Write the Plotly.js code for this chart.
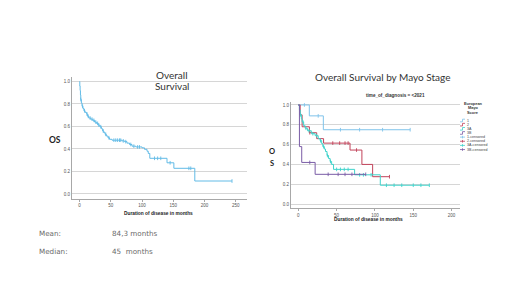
<!DOCTYPE html>
<html>
<head>
<meta charset="utf-8">
<script src="https://cdn.plot.ly/plotly-3.0.1.min.js"></script>
<style>html,body{margin:0;padding:0;background:#fff;}#chart{width:520px;height:292px;}</style>
</head>
<body>
<div id="chart"></div>
<script>
// ---------- DATA ----------
// Left: overall survival (Kaplan-Meier steps)
const osTimes = [0,0.5,1,1.5,2,3,4,5.5,7,9,11.5,13,15,18,21,24,27,30,32.5,35,37,39,41,43,45.5,48,52,68,72,76,80,84,90,100,104,108,110,112.5,140,151,184.5];
const osSurv  = [1,0.96,0.92,0.88,0.84,0.81,0.78,0.76,0.74,0.725,0.71,0.69,0.675,0.665,0.655,0.64,0.628,0.612,0.598,0.58,0.56,0.545,0.53,0.515,0.5,0.486,0.478,0.472,0.465,0.452,0.44,0.425,0.418,0.41,0.397,0.38,0.36,0.317,0.277,0.228,0.115];
const osEnd = 244;
const osCensor = [2,5,8,12,14,17,20,23,26,29,31,34,38,42,47,55,58,61,64,66,70,74,82,87,93,96,120,125,130,145,175,178,244];

// Right: overall survival by European Mayo stage
const stageNames = ["1","2","3A","3B"];
const stageTimes = [
  [0,14.4,32.7],
  [0,2.5,5,14.5,24,33,67.5,83,97],
  [0,1.5,2.5,4,5,7,9,12,17,22,26,28.5,30.5,32,34,35.5,37.5,39.5,41.5,43.5,46,73.5,107],
  [0,1.5,4.5,22]
];
const stageSurv = [
  [1,0.89,0.75],
  [1,0.9,0.78,0.72,0.66,0.615,0.545,0.40,0.276],
  [1,0.95,0.90,0.86,0.83,0.79,0.765,0.74,0.71,0.69,0.66,0.64,0.61,0.58,0.555,0.53,0.49,0.46,0.43,0.40,0.35,0.295,0.19],
  [1,0.58,0.42,0.30]
];
const stageEnd = [146,119,171,88];
const stageCensor = [
  [8,26,55,80,110,146],
  [15,45,54,61,65,76,119],
  [3,6,10,14,19,24,29,33,38,42,50,55,60,65,80,85,95,115,125,135,150,160,171],
  [15,39,52,61,70,88]
];
const legendLabels = ["1","2","3A","3B","1-censored","2-censored","3A-censored","3B-censored"];
const yTicks = [0,0.2,0.4,0.6,0.8,1.0];
const xTicksL = [0,50,100,150,200,250];
const xTicksR = [0,50,100,150,200];

// ---------- STYLE ----------
const W = 520, H = 292;
const osColor = "#62bbe6";
const stageColors = ["#7fc3ea","#c2435a","#3fd3cb","#7a5ca6"];
const PX = x => x / W, PY = y => 1 - y / H;

function survAt(times, surv, t){
  let s = surv[0];
  for (let i = 0; i < times.length; i++) if (times[i] <= t) s = surv[i];
  return s;
}
function stepTrace(times, surv, end, color, xa, ya){
  return {x: times.concat([end]), y: surv.concat([surv[surv.length-1]]),
    type:"scatter", mode:"lines", line:{shape:"hv", color:color, width:1},
    xaxis:xa, yaxis:ya, hoverinfo:"skip", showlegend:false};
}
function censorTrace(times, surv, cens, color, xa, ya){
  return {x: cens, y: cens.map(t => survAt(times, surv, t)),
    type:"scatter", mode:"markers",
    marker:{symbol:"line-ns-open", size:2.6, color:color, line:{color:color, width:0.9}},
    xaxis:xa, yaxis:ya, hoverinfo:"skip", showlegend:false};
}

const traces = [];
traces.push(stepTrace(osTimes, osSurv, osEnd, osColor, "x", "y"));
traces.push(censorTrace(osTimes, osSurv, osCensor, osColor, "x", "y"));
for (let g = 0; g < stageNames.length; g++){
  traces.push(stepTrace(stageTimes[g], stageSurv[g], stageEnd[g], stageColors[g], "x2", "y2"));
  traces.push(censorTrace(stageTimes[g], stageSurv[g], stageCensor[g], stageColors[g], "x2", "y2"));
}

const tickFont = {family:"Liberation Sans, Arial, sans-serif", size:4.5, color:"#555"};
function xAxis(domain, range, ticks, anchor){
  return {domain:domain, range:range, anchor:anchor, tickvals:ticks, ticktext:ticks.map(String),
    showline:true, linecolor:"#a8a8a8", linewidth:1, ticks:"outside", ticklen:2, tickcolor:"#a8a8a8",
    tickfont:tickFont, showgrid:false, zeroline:false, fixedrange:true};
}
function yAxis(domain, range, anchor){
  return {domain:domain, range:range, anchor:anchor, tickvals:yTicks, ticktext:yTicks.map(v=>v.toFixed(1)),
    showline:true, linecolor:"#a8a8a8", linewidth:1, ticks:"", tickfont:tickFont,
    showgrid:true, gridcolor:"#d6d6d6", gridwidth:1, zeroline:false, fixedrange:true};
}

const annotations = [];
function ann(x, y, text, size, opts){
  opts = opts || {};
  annotations.push(Object.assign({xref:"paper", yref:"paper", x:PX(x), y:PY(y), text:text, showarrow:false,
    xanchor:"center", yanchor:"middle", borderpad:0,
    font:{family:opts.family || "Lato, sans-serif", size:size, color:opts.color || "#333"}}, opts.extra || {}));
}
const arial = "Liberation Sans, Arial, sans-serif";
// Titles
ann(172, 75, "Overall", 10);
ann(172, 86, "Survival", 10);
ann(382, 77, "Overall Survival by Mayo Stage", 10);
ann(395, 95, "<b>time_of_diagnosis = &lt;2021</b>", 4.6, {family:arial, color:"#333"});
ann(55, 140, "<b>OS</b>", 8.5, {color:"#222"});
ann(272, 151, "<b>O</b>", 7.5, {color:"#222"});
ann(272, 163, "<b>S</b>", 7.5, {color:"#222"});
ann(158, 213, "<b>Duration of disease in months</b>", 4.8, {family:arial, color:"#222"});
ann(368, 219.5, "<b>Duration of disease in months</b>", 4.8, {family:arial, color:"#222"});
// Stats
const statFont = "DejaVu Sans, sans-serif";
const statCol = "#6b6b6b";
ann(38, 233, "Mean:", 7.2, {family:statFont, color:statCol, extra:{xanchor:"left"}});
ann(111, 233, "84,3 months", 7.2, {family:statFont, color:statCol, extra:{xanchor:"left"}});
ann(38, 251, "Median:", 7.2, {family:statFont, color:statCol, extra:{xanchor:"left"}});
ann(111, 251, "45\u00a0 months", 7.2, {family:statFont, color:statCol, extra:{xanchor:"left"}});
// Legend title
ann(473, 103.8, "<b>European</b>", 3.9, {family:arial});
ann(473, 108, "<b>Mayo</b>", 3.9, {family:arial});
ann(473, 112.2, "<b>Score</b>", 3.9, {family:arial});

const shapes = [];
const legX0 = 460, legTextX = 466, legY0 = 120.5, legDy = 4.15;
legendLabels.forEach((lab, i) => {
  const y = legY0 + i * legDy;
  const col = stageColors[i % 4];
  ann(legTextX, y, lab, 3.6, {family:arial, color:"#444", extra:{xanchor:"left"}});
  if (i < 4){
    shapes.push({type:"path", xref:"paper", yref:"paper",
      path:`M ${PX(legX0)},${PY(y+1.3)} L ${PX(legX0+2.5)},${PY(y+1.3)} L ${PX(legX0+2.5)},${PY(y-1.3)} L ${PX(legX0+5)},${PY(y-1.3)}`,
      line:{color:col, width:0.8}});
  } else {
    shapes.push({type:"line", xref:"paper", yref:"paper", x0:PX(legX0), x1:PX(legX0+5), y0:PY(y), y1:PY(y), line:{color:col, width:0.8}});
    shapes.push({type:"line", xref:"paper", yref:"paper", x0:PX(legX0+2.5), x1:PX(legX0+2.5), y0:PY(y-1.3), y1:PY(y+1.3), line:{color:col, width:0.8}});
  }
});

const layout = {
  width:W, height:H, margin:{l:0,r:0,t:0,b:0}, paper_bgcolor:"#fff", plot_bgcolor:"#fff",
  showlegend:false,
  xaxis: xAxis([72/W, 247/W], [-12, 268], xTicksL, "y"),
  yaxis: yAxis([1-199/H, 1-77/H], [-0.045, 1.04], "x"),
  xaxis2: xAxis([291/W, 460/W], [-9.5, 211], xTicksR, "y2"),
  yaxis2: yAxis([1-208.3/H, 1-101.7/H], [-0.043, 1.033], "x2"),
  annotations: annotations, shapes: shapes
};
Plotly.newPlot("chart", traces, layout, {displayModeBar:false, staticPlot:true});
</script>
</body>
</html>
